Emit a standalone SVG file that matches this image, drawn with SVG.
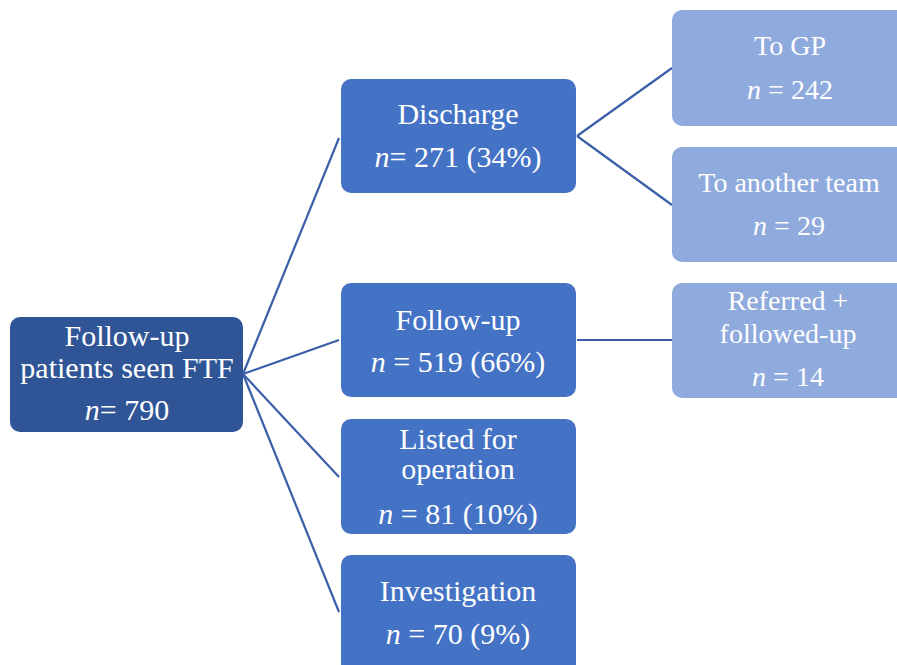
<svg xmlns="http://www.w3.org/2000/svg" width="897" height="665" viewBox="0 0 897 665">
<style>
.root{fill:#2F5597}
.mid{fill:#4472C4}
.leaf{fill:#8FAADC}
text{font-family:"Liberation Serif","Times New Roman",serif;fill:#fff;text-anchor:middle;font-size:30px}
.s{font-size:28px}
.i{font-style:italic}
.c{stroke:#3A5FA8;stroke-width:2.2;fill:none}
</style>
<rect width="897" height="665" fill="#fff"/>
<g id="connectors">
<path class="c" d="M243 374 L339 138"/>
<path class="c" d="M243 374 L339 340"/>
<path class="c" d="M243 374 L339 477"/>
<path class="c" d="M243 374 L339 612"/>
<path class="c" d="M577 136 L672 68"/>
<path class="c" d="M577 136 L672 205"/>
<path class="c" d="M577 340 L672 340"/>
</g>
<g id="root">
<rect class="root" x="10" y="317" width="233" height="115" rx="10"/>
<text x="127" y="346">Follow-up</text>
<text x="127" y="378">patients seen FTF</text>
<text x="127" y="420"><tspan class="i">n</tspan>= 790</text>
</g>
<g id="discharge">
<rect class="mid" x="341" y="79" width="235" height="114" rx="10"/>
<text x="458" y="124">Discharge</text>
<text x="458" y="167"><tspan class="i">n</tspan>= 271 (34%)</text>
</g>
<g id="followup">
<rect class="mid" x="341" y="283" width="235" height="114" rx="10"/>
<text x="458" y="330">Follow-up</text>
<text x="458" y="372"><tspan class="i">n</tspan> = 519 (66%)</text>
</g>
<g id="listed">
<rect class="mid" x="341" y="419" width="235" height="115" rx="10"/>
<text x="458" y="449">Listed for</text>
<text x="458" y="479">operation</text>
<text x="458" y="524"><tspan class="i">n</tspan> = 81 (10%)</text>
</g>
<g id="investigation">
<rect class="mid" x="341" y="555" width="235" height="120" rx="10"/>
<text x="458" y="601">Investigation</text>
<text x="458" y="644"><tspan class="i">n</tspan> = 70 (9%)</text>
</g>
<g id="togp">
<rect class="leaf" x="672" y="10" width="234" height="116" rx="10"/>
<text class="s" x="790" y="55">To GP</text>
<text class="s" x="790" y="99"><tspan class="i">n</tspan> = 242</text>
</g>
<g id="toteam">
<rect class="leaf" x="672" y="147" width="234" height="115" rx="10"/>
<text class="s" x="789" y="192">To another team</text>
<text class="s" x="789" y="235"><tspan class="i">n</tspan> = 29</text>
</g>
<g id="referred">
<rect class="leaf" x="672" y="283" width="234" height="115" rx="10"/>
<text class="s" x="788" y="310">Referred +</text>
<text class="s" x="788" y="343">followed-up</text>
<text class="s" x="788" y="386"><tspan class="i">n</tspan> = 14</text>
</g>
</svg>
